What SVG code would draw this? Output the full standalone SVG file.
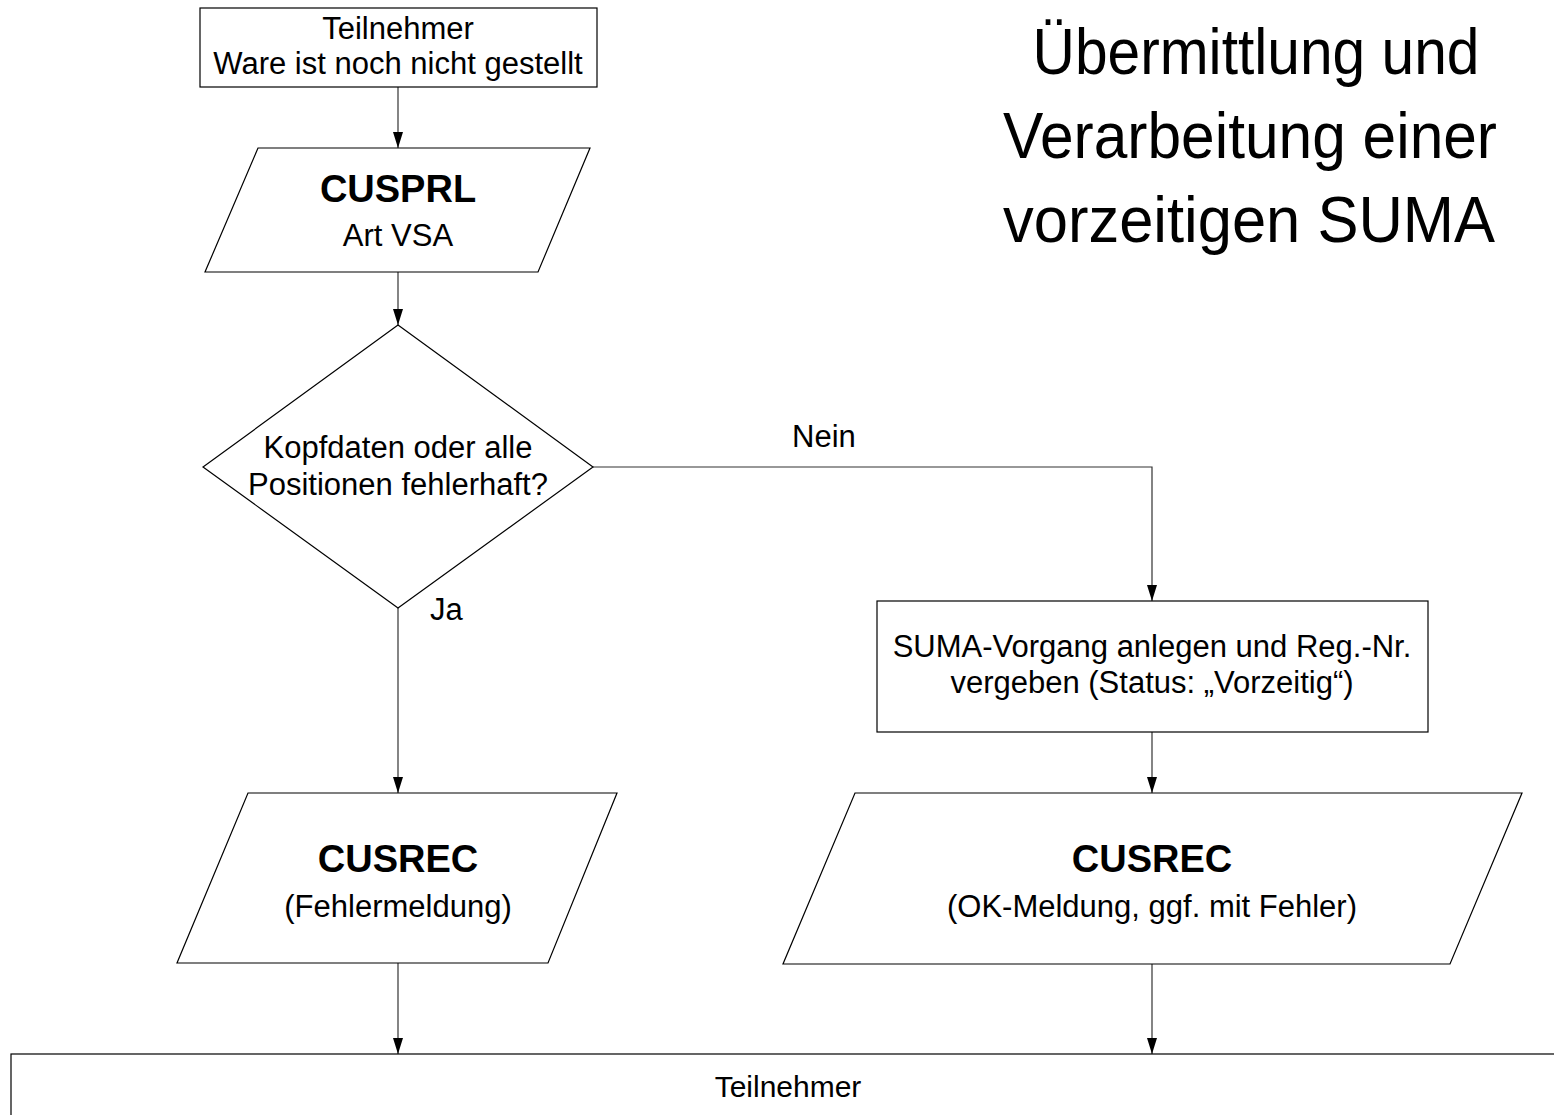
<svg xmlns="http://www.w3.org/2000/svg" width="1554" height="1115" viewBox="0 0 1554 1115">
<style>
.shape{fill:#fff;stroke:#000;stroke-width:1.2}
.conn{fill:none;stroke:#333;stroke-width:1.2}
text{font-family:"Liberation Sans",Arial,sans-serif;fill:#000}
.t{font-size:31px;text-anchor:middle}
.b{font-size:38px;font-weight:bold;text-anchor:middle}
.title{font-size:64px;text-anchor:middle}
</style>
<defs>
<marker id="arr" viewBox="0 0 16 10" refX="16" refY="5" markerWidth="16" markerHeight="10" markerUnits="userSpaceOnUse" orient="auto">
<path d="M0,0 L16,5 L0,10 z" fill="#000"/>
</marker>
</defs>
<rect width="1554" height="1115" fill="#fff"/>
<g id="title">
<text class="title" x="1256" y="74" textLength="447" lengthAdjust="spacingAndGlyphs">Übermittlung und</text>
<text class="title" x="1250" y="158" textLength="494" lengthAdjust="spacingAndGlyphs">Verarbeitung einer</text>
<text class="title" x="1249" y="242" textLength="492" lengthAdjust="spacingAndGlyphs">vorzeitigen SUMA</text>
</g>
<g id="connectors">
<path class="conn" d="M398,87 L398,148" marker-end="url(#arr)"/>
<path class="conn" d="M398,272 L398,325" marker-end="url(#arr)"/>
<path class="conn" d="M398,608 L398,793" marker-end="url(#arr)"/>
<path class="conn" d="M593,467 L1152,467 L1152,601" marker-end="url(#arr)"/>
<path class="conn" d="M1152,732 L1152,793" marker-end="url(#arr)"/>
<path class="conn" d="M398,963 L398,1054" marker-end="url(#arr)"/>
<path class="conn" d="M1152,964 L1152,1054" marker-end="url(#arr)"/>
<text class="t" x="824" y="447">Nein</text>
<text x="430" y="620" style="font-size:31px">Ja</text>
</g>
<g id="start">
<rect class="shape" x="200" y="8" width="397" height="79"/>
<text class="t" x="398" y="39">Teilnehmer</text>
<text class="t" x="398" y="74">Ware ist noch nicht gestellt</text>
</g>
<g id="cusprl">
<polygon class="shape" points="258,148 590,148 538,272 205,272"/>
<text class="b" x="398" y="202">CUSPRL</text>
<text class="t" x="398" y="246">Art VSA</text>
</g>
<g id="decision">
<polygon class="shape" points="398,325 593,467 398,608 203,467"/>
<text class="t" x="398" y="458">Kopfdaten oder alle</text>
<text class="t" x="398" y="495">Positionen fehlerhaft?</text>
</g>
<g id="suma">
<rect class="shape" x="877" y="601" width="551" height="131"/>
<text class="t" x="1152" y="657">SUMA-Vorgang anlegen und Reg.-Nr.</text>
<text class="t" x="1152" y="693">vergeben (Status: „Vorzeitig“)</text>
</g>
<g id="cusrec-error">
<polygon class="shape" points="248,793 617,793 548,963 177,963"/>
<text class="b" x="398" y="872">CUSREC</text>
<text class="t" x="398" y="917">(Fehlermeldung)</text>
</g>
<g id="cusrec-ok">
<polygon class="shape" points="855,793 1522,793 1450,964 783,964"/>
<text class="b" x="1152" y="872">CUSREC</text>
<text class="t" x="1152" y="917">(OK-Meldung, ggf. mit Fehler)</text>
</g>
<g id="end">
<rect class="shape" x="11" y="1054" width="1560" height="80"/>
<text class="t" x="788" y="1097" style="font-size:30px">Teilnehmer</text>
</g>
</svg>
